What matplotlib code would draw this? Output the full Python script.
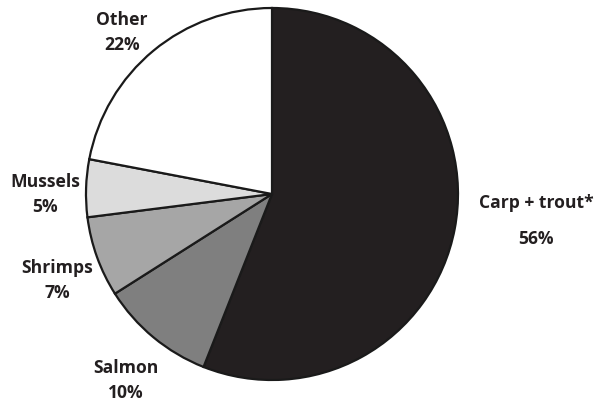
import matplotlib
matplotlib.use("Agg")
import matplotlib.pyplot as plt

# Share of production by species group
categories = ["Carp + trout*", "Salmon", "Shrimps", "Mussels", "Other"]
shares = [56, 10, 7, 5, 22]
colors = ["#231f20", "#7f7f7f", "#a6a6a6", "#dcdcdc", "#ffffff"]

W, H = 597, 405
fig = plt.figure(figsize=(W / 100, H / 100), dpi=100)
ax = fig.add_axes([0, 0, 1, 1])

cx, cy, r = 272, H - 194, 186
wedges, _ = ax.pie(
    shares,
    colors=colors,
    startangle=90,
    counterclock=False,
    center=(cx, cy),
    radius=r,
    frame=True,
    wedgeprops=dict(edgecolor="#1a1a1a", linewidth=1.6),
)
ax.set_xlim(0, W)
ax.set_ylim(0, H)
ax.set_aspect("equal")
ax.axis("off")

# label positions (x, y of the name line, y of the percent line), pixels from top
label_pos = {
    "Carp + trout*": (536, 203, 239),
    "Salmon": (126, 368, 393),
    "Shrimps": (57, 268, 293),
    "Mussels": (45, 182, 207),
    "Other": (122, 20, 45),
}
font = dict(family=["Open Sans", "DejaVu Sans"], fontweight="bold",
            fontsize=12.6, color="#231f20", ha="center", va="center")
for name, val in zip(categories, shares):
    x, y1, y2 = label_pos[name]
    ax.text(x, H - y1, name, **font)
    ax.text(x, H - y2, f"{val}%", **font)

fig.savefig("out.png", dpi=100)
